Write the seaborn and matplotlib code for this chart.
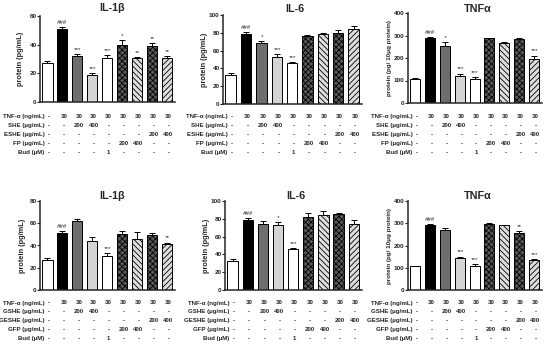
import numpy as np
import pandas as pd
import matplotlib
matplotlib.use("Agg")
import matplotlib.pyplot as plt
import matplotlib.transforms as mtransforms
import seaborn as sns

sns.set_style("ticks")
plt.rcParams['font.family'] = ['Liberation Sans', 'DejaVu Sans']
plt.rcParams['hatch.linewidth'] = 0.6

# ---------------- data ----------------
groups = ["Ctrl", "TNF", "X200", "X400", "Bud", "F200", "F400", "E200", "E400"]

il1b_top = [27, 51, 32, 19, 31, 40, 31, 39, 31]
il1b_top_err = [1.5, 1.5, 1.5, 1, 2, 3, 0.5, 2, 1]
il1b_top_sig = ["", "###", "***", "***", "***", "*", "**", "**", "**"]

il6_top = [33, 79, 69, 53, 46, 76, 79, 80, 84]
il6_top_err = [2, 2, 1.5, 3, 1, 1.5, 0.7, 3, 4]
il6_top_sig = ["", "###", "*", "***", "***", "", "", "", ""]

tnf_top = [107, 288, 255, 122, 108, 288, 268, 285, 195]
tnf_top_err = [2, 5, 15, 8, 8, 3, 2, 5, 15]
tnf_top_sig = ["", "###", "*", "***", "***", "", "", "", "***"]

il1b_bot = [27, 51, 62, 44, 31, 50, 46, 49, 41]
il1b_bot_err = [1.5, 2, 1.5, 4, 2, 3, 6, 2, 1.5]
il1b_bot_sig = ["", "###", "", "", "***", "", "", "", "**"]

il6_bot = [33, 79, 74, 73, 46, 82, 84, 85, 74]
il6_bot_err = [2, 2, 3, 3, 1, 5, 5, 2, 5]
il6_bot_sig = ["", "###", "", "*", "***", "", "", "", ""]

tnf_bot = [107, 290, 268, 145, 108, 298, 290, 255, 135]
tnf_bot_err = [2, 5, 12, 5, 8, 3, 2, 10, 5]
tnf_bot_sig = ["", "###", "", "***", "***", "", "", "**", "***"]

row_labels_top = ["TNF-α (ng/mL)", "SHE (μg/mL)", "ESHE (μg/mL)", "FP (μg/mL)", "Bud (μM)"]
row_labels_bot = ["TNF-α (ng/mL)", "GSHE (μg/mL)", "GESHE (μg/mL)", "GFP (μg/mL)", "Bud (μM)"]
row_tnf = ["-", "30", "30", "30", "30", "30", "30", "30", "30"]
row_she = ["-", "-", "200", "400", "-", "-", "-", "-", "-"]
row_eshe = ["-", "-", "-", "-", "-", "-", "-", "200", "400"]
row_fp = ["-", "-", "-", "-", "-", "200", "400", "-", "-"]
row_bud = ["-", "-", "-", "-", "1", "-", "-", "-", "-"]
table_rows = [row_tnf, row_she, row_eshe, row_fp, row_bud]

ticks_il1b_top = [0, 20, 40, 60]
ticks_il1b_bot = [0, 20, 40, 60, 80]
ticks_il6 = [0, 20, 40, 60, 80, 100]
ticks_tnf = [0, 100, 200, 300, 400]

# ---------------- styles ----------------
faces = ["white", "black", "#6e6e6e", "#d4d4d4", "white", "#5a5a5a", "#dedede", "#5a5a5a", "#dedede"]
hatches = [None, None, None, None, None, "xxxxxx", "\\\\\\\\\\\\", "xxxxxx", "//////"]

W, H = 550, 344
fig = plt.figure(figsize=(W / 100, H / 100), dpi=100)


def px_axes(x0, x1, ytop, ybot):
    return fig.add_axes([x0 / W, 1 - ybot / H, (x1 - x0) / W, (ybot - ytop) / H])


def panel(box, vals, errs, sigs, yticks, title, title_xy, ylabel, ylab_x, ylab_size,
          row_labels, table_y):
    ax = px_axes(*box)
    df = pd.DataFrame({"group": groups, "value": vals})
    sns.barplot(data=df, x="group", y="value", hue="group", order=groups,
                hue_order=groups, palette=dict(zip(groups, faces)), legend=False,
                errorbar=None, width=0.68, edgecolor="black", linewidth=0.7,
                saturation=1, ax=ax)
    for p, h in zip(ax.patches, hatches):
        if h:
            p.set_hatch(h)
    xs = np.arange(len(groups))
    ax.errorbar(xs, vals, yerr=[np.zeros(len(errs)), errs], fmt="none",
                ecolor="black", elinewidth=0.7, capsize=2.0, capthick=0.7)
    ymax = yticks[-1]
    for x, v, e, s in zip(xs, vals, errs, sigs):
        if s:
            ax.text(x, v + e + ymax * 0.025, s, ha="center", va="bottom",
                    fontsize=4.4, style="italic", color="#222222")
    ax.set_ylim(0, ymax)
    ax.set_xlim(-0.5, 8.55)
    ax.set_yticks(yticks)
    ax.set_yticklabels([str(t) for t in yticks], fontsize=4.6, fontweight="bold")
    ax.tick_params(axis="y", length=2, width=0.8, pad=0.5)
    ax.tick_params(axis="x", length=0)
    ax.set_xticks([])
    ax.set_xlabel("")
    ax.set_ylabel("")
    for sp in ["top", "right"]:
        ax.spines[sp].set_visible(False)
    for sp in ["left", "bottom"]:
        ax.spines[sp].set_linewidth(1.1)
    fig.text(title_xy[0] / W, 1 - title_xy[1] / H, title, ha="center", va="center",
             fontsize=7.8, fontweight="bold")
    fig.text(ylab_x / W, 1 - (box[2] + box[3]) / 2 / H, ylabel, rotation=90,
             ha="center", va="center", fontsize=ylab_size, fontweight="bold")
    trans = mtransforms.blended_transform_factory(ax.transData, fig.transFigure)
    for r, (lab, row) in enumerate(zip(row_labels, table_rows)):
        yy = 1 - (table_y + r * 8.8) / H
        ax.text(-0.2, yy, lab, transform=trans, ha="right", va="center",
                fontsize=4.4, fontweight="bold", clip_on=False)
        for x, t in zip(xs, row):
            ax.text(x + 0.1, yy, t, transform=trans, ha="center", va="center",
                    fontsize=4.4, fontweight="bold", clip_on=False)
    return ax


panel((40, 175, 16, 102), il1b_top, il1b_top_err, il1b_top_sig, ticks_il1b_top,
      "IL-1β", (112, 8), "protein (pg/mL)", 20, 5.3, row_labels_top, 117)
panel((223, 362, 15, 104), il6_top, il6_top_err, il6_top_sig, ticks_il6,
      "IL-6", (295, 9), "protein (pg/mL)", 204, 5.3, row_labels_top, 117)
panel((408, 542, 13, 103), tnf_top, tnf_top_err, tnf_top_sig, ticks_tnf,
      "TNFα", (478, 9), "protein (pg/ 10μg protein)", 390, 4.5, row_labels_top, 117)

panel((40, 175, 201, 290), il1b_bot, il1b_bot_err, il1b_bot_sig, ticks_il1b_bot,
      "IL-1β", (112, 196), "protein (pg/mL)", 22, 5.3, row_labels_bot, 303)
panel((225, 362, 201, 290), il6_bot, il6_bot_err, il6_bot_sig, ticks_il6,
      "IL-6", (296, 196), "protein (pg/mL)", 207, 5.3, row_labels_bot, 303)
panel((408, 542, 201, 290), tnf_bot, tnf_bot_err, tnf_bot_sig, ticks_tnf,
      "TNFα", (478, 196), "protein (pg/ 10μg protein)", 390, 4.5, row_labels_bot, 303)

fig.savefig("out.png", dpi=100)
